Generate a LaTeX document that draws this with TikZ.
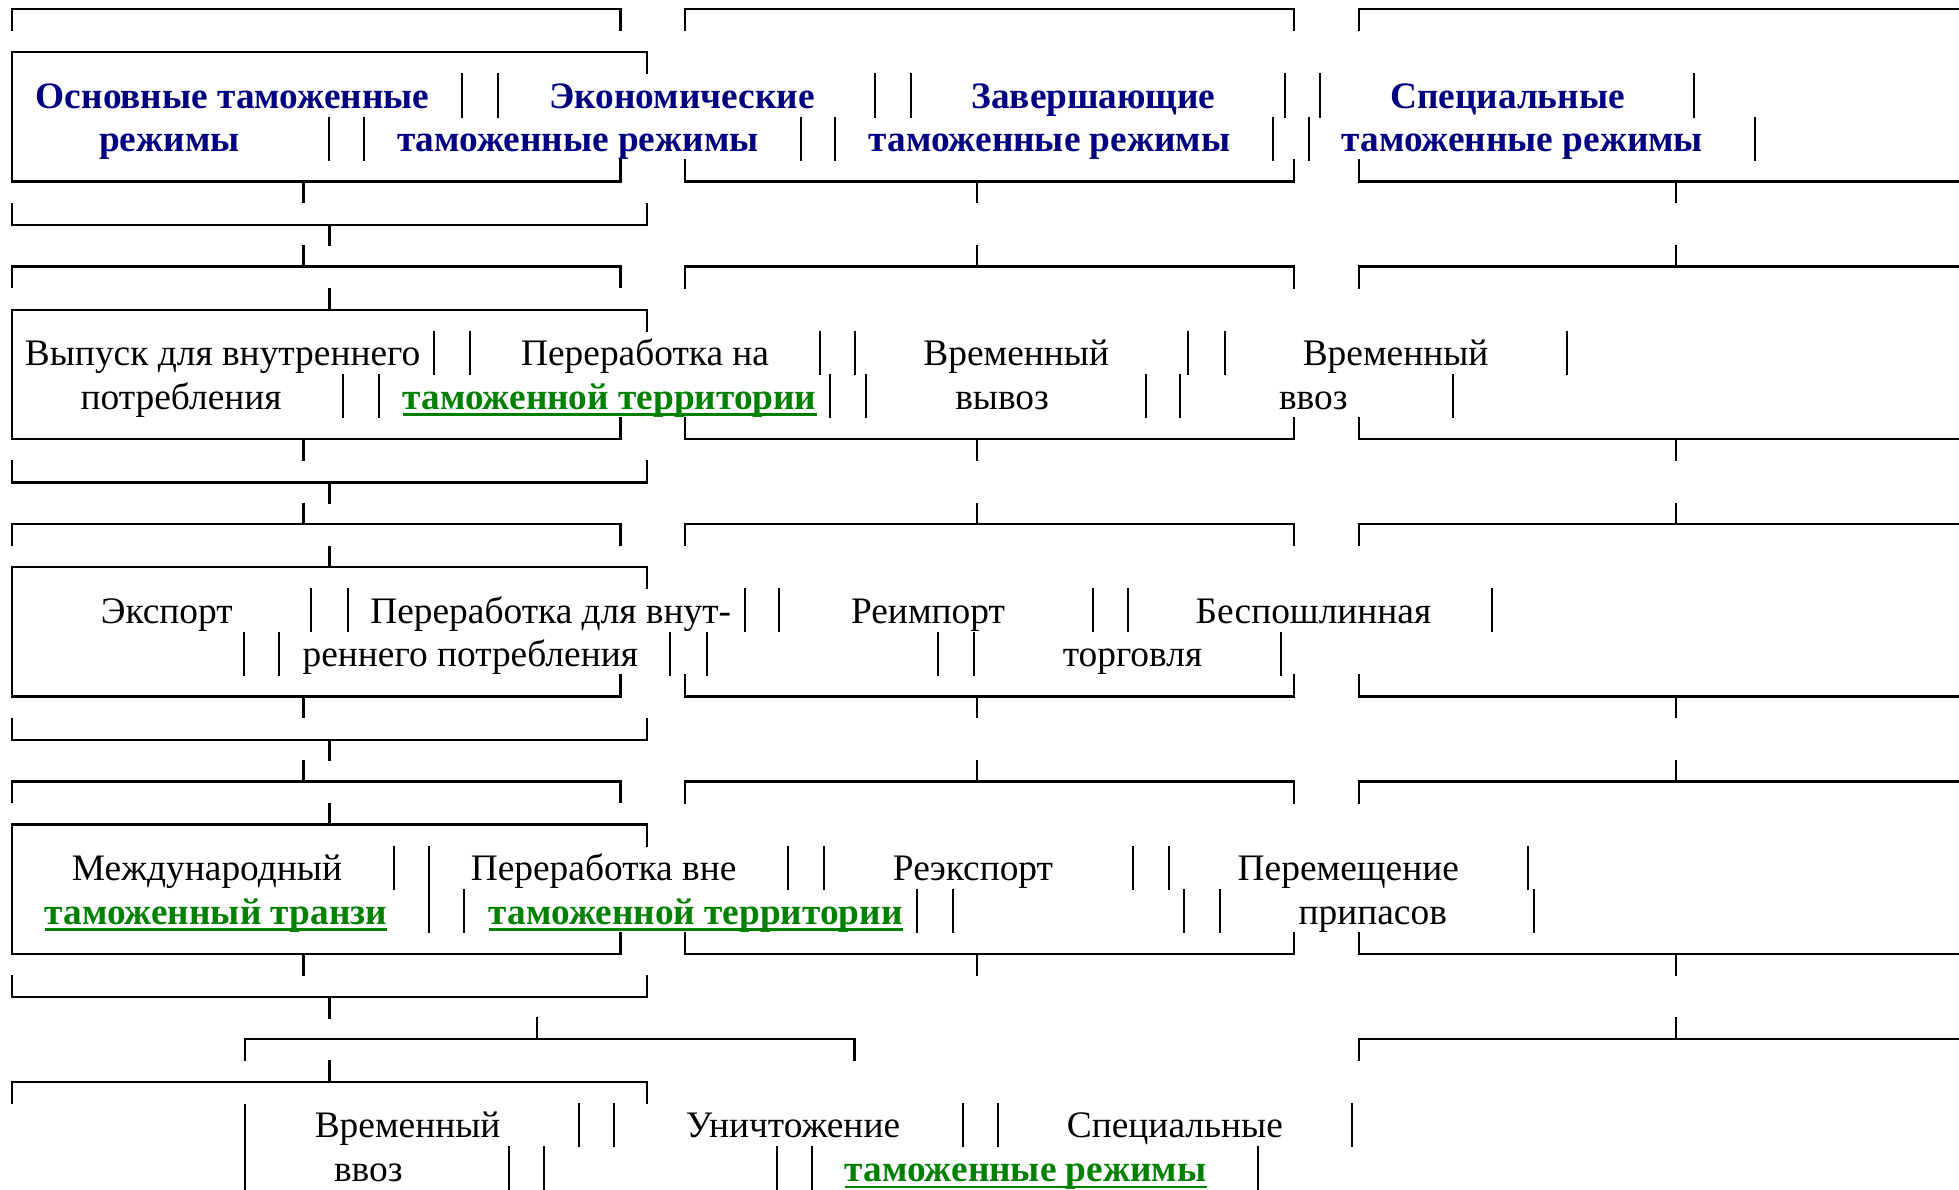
\documentclass[tikz,border=0pt]{standalone}
\usepackage{fontspec}
\setmainfont{Liberation Serif}
\usepackage{tikz}
\usetikzlibrary{positioning}
\definecolor{hdnavy}{RGB}{0,0,128}
\definecolor{lkgreen}{RGB}{0,128,0}
\tikzstyle{boxline} = [line width=2.4pt]
\tikzstyle{sepbar} = [line width=2pt]
\tikzstyle{modetext} = [inner sep=0pt, anchor=base, yshift=-1.5pt, font=\fontsize{37.4}{44}\selectfont]
\tikzstyle{headtext} = [modetext, font=\fontsize{37.3}{44}\selectfont\bfseries, text=hdnavy]
\tikzstyle{linktext} = [modetext, font=\fontsize{37.3}{44}\selectfont\bfseries, text=lkgreen]
\tikzstyle{underln} = [line width=2.7pt, color=lkgreen]

\begin{document}
\begin{tikzpicture}[x=1pt, y=-1pt]
    \useasboundingbox (0,0) rectangle (1959,1190);

    % Frames of rows 1-4
    \foreach \t in {9.3,266.7,524.1,781.5} {
        \draw[boxline] (12,\t+21.5) -- (12,\t) -- (620.5,\t) -- (620.5,\t+21.5);
        \draw[boxline] (647,\t+65) -- (647,\t+43) -- (12,\t+43) -- (12,\t+172.4) -- (620.5,\t+172.4) -- (620.5,\t+150);
        \draw[boxline] (303.6,\t+172.4) -- (303.6,\t+194);
        \draw[boxline] (12,\t+193.5) -- (12,\t+215.7) -- (647,\t+215.7) -- (647,\t+193.5);
        \draw[boxline] (329.5,\t+215.7) -- (329.5,\t+237);
        \draw[boxline] (684.8,\t+22) -- (684.8,\t) -- (1293.8,\t) -- (1293.8,\t+22);
        \draw[boxline] (684.8,\t+150) -- (684.8,\t+172.4) -- (1293.8,\t+172.4) -- (1293.8,\t+150);
        \draw[boxline] (976.8,\t+172.4) -- (976.8,\t+194);
        \draw[boxline] (1358.8,\t+22) -- (1358.8,\t) -- (1959,\t);
        \draw[boxline] (1358.8,\t+150) -- (1358.8,\t+172.4) -- (1959,\t+172.4);
        \draw[boxline] (1676,\t+172.4) -- (1676,\t+194);
    }
    \foreach \t in {266.7,524.1,781.5} {
        \draw[boxline] (303.6,\t-21.5) -- (303.6,\t);
        \draw[boxline] (329.5,\t+21.5) -- (329.5,\t+43);
        \draw[boxline] (976.8,\t-21.5) -- (976.8,\t);
        \draw[boxline] (1676,\t-21.5) -- (1676,\t);
    }

    % Row 5 frame
    \draw[boxline] (537,1017.4) -- (537,1038.9);
    \draw[boxline] (245,1060.9) -- (245,1038.9) -- (854.6,1038.9) -- (854.6,1060.9);
    \draw[boxline] (329.5,1060.4) -- (329.5,1081.9);
    \draw[boxline] (12,1104.4) -- (12,1081.9) -- (647,1081.9) -- (647,1104.4);
    \draw[boxline] (1676,1017.4) -- (1676,1038.9);
    \draw[boxline] (1358.8,1060.9) -- (1358.8,1038.9) -- (1959,1038.9);

    % Separator bars
    \foreach \x in {462,497.8,875.4,911.2,1284.8,1320.3,1693.9}
        \draw[sepbar] (\x,73.3) -- (\x,117.6);
    \foreach \x in {329,363.8,800.9,835.3,1272.8,1308.8,1754.8}
        \draw[sepbar] (\x,116.7) -- (\x,160.7);
    \foreach \x in {433.7,470,819.5,854.6,1188,1224.8,1566.5}
        \draw[sepbar] (\x,330.7) -- (\x,375);
    \foreach \x in {343,378.8,830.4,866,1145.6,1180.4,1453.2}
        \draw[sepbar] (\x,374.1) -- (\x,418.1);
    \foreach \x in {311.2,347.6,744.9,779.3,1092.9,1128.2,1491.8}
        \draw[sepbar] (\x,588.1) -- (\x,632.4);
    \foreach \x in {243.6,279.3,669.6,706.6,937.5,974.2,1281.4}
        \draw[sepbar] (\x,631.5) -- (\x,675.5);
    \foreach \x in {393.5,429.2,787.6,824,1133.4,1168.8,1527.9}
        \draw[sepbar] (\x,845.5) -- (\x,889.8);
    \foreach \x in {429.2,464.3,917.1,953.3,1183.6,1220.3,1534.3}
        \draw[sepbar] (\x,888.9) -- (\x,932.9);
    \foreach \x in {579.1,614.2,963,998.3,1352.2}
        \draw[sepbar] (\x,1102.9) -- (\x,1147.2);
    \foreach \x in {508.9,544,776.8,811.9,1257.6}
        \draw[sepbar] (\x,1146.3) -- (\x,1190);
    \draw[sepbar] (244.9,1103.9) -- (244.9,1190);

    % Row 1: groups of regimes
    \node[headtext] (osn1) at (232.6,106.8) {Основные таможенные};
    \node[headtext] (osn2) at (169.4,150.3) {режимы};
    \node[headtext] (eko1) at (682.1,106.8) {Экономические};
    \node[headtext] (eko2) at (577.9,150.3) {таможенные режимы};
    \node[headtext] (zav1) at (1093.5,106.8) {Завершающие};
    \node[headtext] (zav2) at (1049.6,150.3) {таможенные режимы};
    \node[headtext] (spc1) at (1507.5,106.8) {Специальные};
    \node[headtext] (spc2) at (1522.4,150.3) {таможенные режимы};

    % Row 2
    \node[modetext] (vyp1) at (222.6,364.2) {Выпуск для внутреннего};
    \node[modetext] (vyp2) at (181.1,407.7) {потребления};
    \node[modetext] (pna1) at (645.1,364.2) {Переработка на};
    \node[linktext] (pna2) at (609.7,407.7) {таможенной территории};
    \node[modetext] (vvy1) at (1016.2,364.2) {Временный};
    \node[modetext] (vvy2) at (1002.1,407.7) {вывоз};
    \node[modetext] (vvz1) at (1395.6,364.2) {Временный};
    \node[modetext] (vvz2) at (1313.3,407.7) {ввоз};

    % Row 3
    \node[modetext] (eks) at (166.8,621.6) {Экспорт};
    \node[modetext] (pdv1) at (550.7,621.6) {Переработка для внут-};
    \node[modetext] (pdv2) at (470.3,665.1) {реннего потребления};
    \node[modetext] (rim) at (928,621.6) {Реимпорт};
    \node[modetext] (bes1) at (1313.5,621.6) {Беспошлинная};
    \node[modetext] (bes2) at (1132.5,665.1) {торговля};

    % Row 4
    \node[modetext] (mtr1) at (207,879) {Международный};
    \node[linktext] (mtr2) at (215.9,922.5) {таможенный транзи};
    \node[modetext] (pvn1) at (603.6,879) {Переработка вне};
    \node[linktext] (pvn2) at (695.8,922.5) {таможенной территории};
    \node[modetext] (rek) at (973,879) {Реэкспорт};
    \node[modetext] (prp1) at (1348.3,879) {Перемещение};
    \node[modetext] (prp2) at (1372.8,922.5) {припасов};

    % Row 5
    \node[modetext] (vvb1) at (407.6,1136.4) {Временный};
    \node[modetext] (vvb2) at (368.3,1179.9) {ввоз};
    \node[modetext] (unc) at (793,1136.4) {Уничтожение};
    \node[modetext] (spr1) at (1174.9,1136.4) {Специальные};
    \node[linktext] (spr2) at (1025.6,1179.9) {таможенные режимы};

    % Underlines of the green links
    \foreach \n in {pna2,mtr2,pvn2,spr2}
        \draw[underln] ([yshift=-5.6pt]\n.base west) -- ([yshift=-5.6pt]\n.base east);
\end{tikzpicture}
\end{document}
